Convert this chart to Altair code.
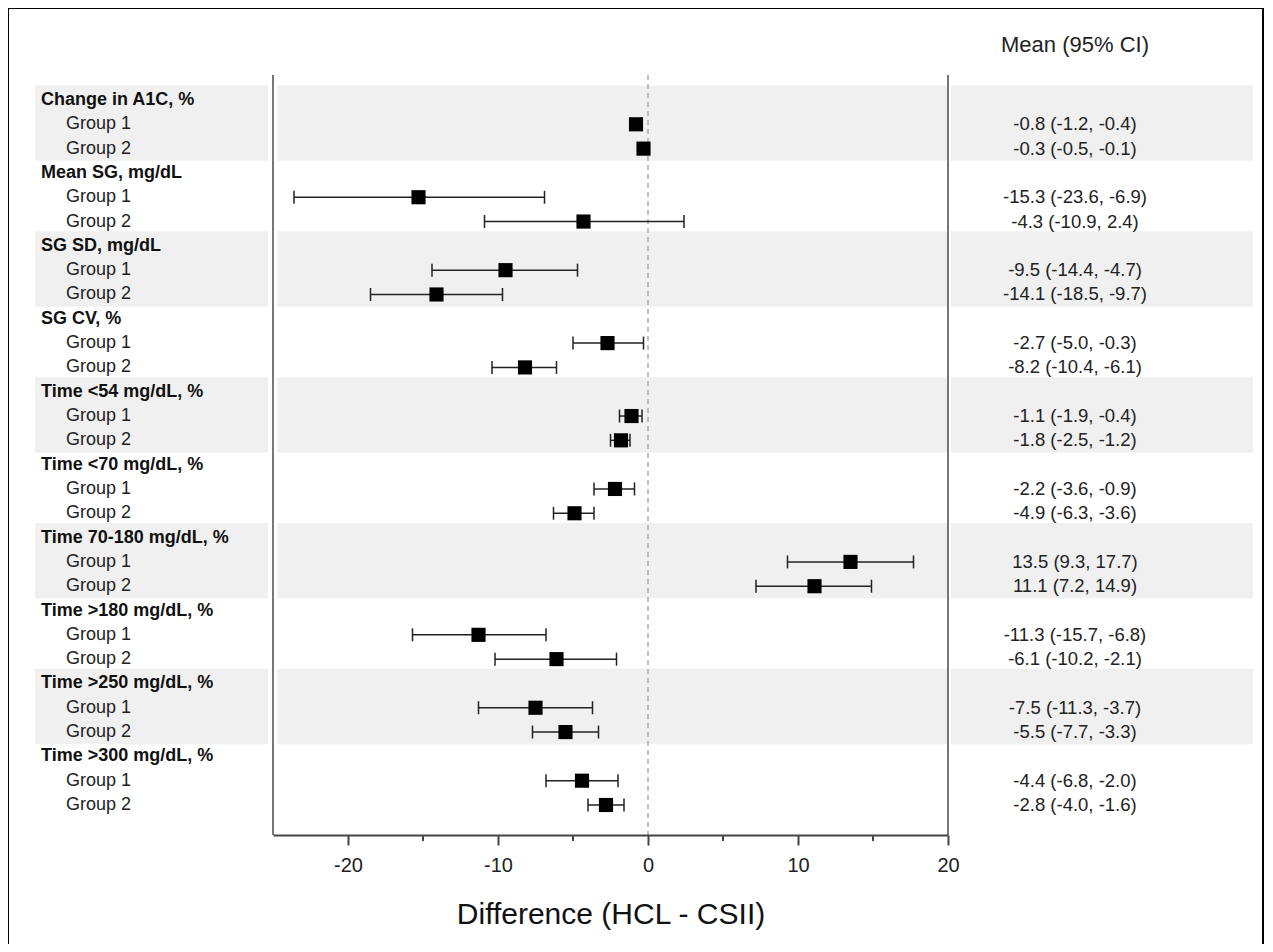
import altair as alt
import pandas as pd

measures = ["Change in A1C, %", "Mean SG, mg/dL", "SG SD, mg/dL", "SG CV, %",
            "Time <54 mg/dL, %", "Time <70 mg/dL, %", "Time 70-180 mg/dL, %",
            "Time >180 mg/dL, %", "Time >250 mg/dL, %", "Time >300 mg/dL, %"]
groups = ["Group 1", "Group 2"]
g1_mean = [-0.8, -15.3, -9.5, -2.7, -1.1, -2.2, 13.5, -11.3, -7.5, -4.4]
g1_lo = [-1.2, -23.6, -14.4, -5.0, -1.9, -3.6, 9.3, -15.7, -11.3, -6.8]
g1_hi = [-0.4, -6.9, -4.7, -0.3, -0.4, -0.9, 17.7, -6.8, -3.7, -2.0]
g2_mean = [-0.3, -4.3, -14.1, -8.2, -1.8, -4.9, 11.1, -6.1, -5.5, -2.8]
g2_lo = [-0.5, -10.9, -18.5, -10.4, -2.5, -6.3, 7.2, -10.2, -7.7, -4.0]
g2_hi = [-0.1, 2.4, -9.7, -6.1, -1.2, -3.6, 14.9, -2.1, -3.3, -1.6]
x_ticks = [-20, -10, 0, 10, 20]
minor_ticks = [-15, -5, 5, 15]
x_domain = [-25, 20]
col_header = "Mean (95% CI)"
x_title = "Difference (HCL - CSII)"

FONT = "Liberation Sans"

# ---- tables built from the arrays ----
head_rows, grp_rows, band_rows = [], [], []
for i, m in enumerate(measures):
    r = 3 * i
    head_rows.append({"row": r, "label": m})
    for j, (mean, lo, hi) in enumerate([(g1_mean[i], g1_lo[i], g1_hi[i]),
                                         (g2_mean[i], g2_lo[i], g2_hi[i])]):
        grp_rows.append({"row": r + 1 + j, "label": groups[j], "mean": mean,
                         "lo": lo, "hi": hi,
                         "txt": f"{mean:.1f} ({lo:.1f}, {hi:.1f})"})
    if i % 2 == 0:
        band_rows.append({"y": r - 0.6, "y2": r + 2.5})

head_df = pd.DataFrame(head_rows)
grp_df = pd.DataFrame(grp_rows)
band_df = pd.DataFrame(band_rows)
one = pd.DataFrame({"k": [0]})

yscale = alt.Scale(domain=[-1.028, 30.234], reverse=True, nice=False, zero=False)
xscale = alt.Scale(domain=x_domain, nice=False, zero=False)
xaxis = alt.Axis(values=x_ticks, labelExpr="datum.value + ''", tickSize=10,
                 tickWidth=2, tickColor="#444", domainColor="#444", domainWidth=2,
                 labelFontSize=20, labelFont=FONT, labelColor="#222", labelPadding=10,
                 labelFlush=False,
                 title=x_title, titleFontSize=30, titleFontWeight="normal",
                 titleFont=FONT, titleColor="#111", titlePadding=24, grid=False,
                 zindex=1)

frame = alt.Chart(one).mark_rect(fillOpacity=0, stroke="black", strokeWidth=2).encode(
    x=alt.value(-265), x2=alt.value(990), y=alt.value(-67), y2=alt.value(900))

bands = []
for xa, xb in [(-238, -5), (4, 674), (678, 980)]:
    bands.append(alt.Chart(band_df).mark_rect(color="#f0f0f0").encode(
        x=alt.value(xa), x2=alt.value(xb),
        y=alt.Y("y:Q", scale=yscale, axis=None), y2="y2:Q"))

vline_l = alt.Chart(one).mark_rule(color="#777", strokeWidth=2).encode(
    x=alt.value(0), y=alt.value(0), y2=alt.value(760))
vline_r = alt.Chart(one).mark_rule(color="#777", strokeWidth=2).encode(
    x=alt.value(675), y=alt.value(0), y2=alt.value(760))

zero = alt.Chart(pd.DataFrame({"z": [0]})).mark_rule(
    color="#aaa", strokeWidth=1.5, strokeDash=[5, 4]).encode(
    x=alt.X("z:Q", scale=xscale, axis=xaxis))

minor = alt.Chart(pd.DataFrame({"t": minor_ticks})).mark_rule(
    color="#444", strokeWidth=2).encode(
    x=alt.X("t:Q", scale=xscale, axis=xaxis), y=alt.value(760), y2=alt.value(766))

ci = alt.Chart(grp_df).mark_rule(color="#222", strokeWidth=1.5).encode(
    x=alt.X("lo:Q", scale=xscale, axis=xaxis), x2="hi:Q",
    y=alt.Y("row:Q", scale=yscale, axis=None))

caps = alt.Chart(grp_df).transform_fold(["lo", "hi"], as_=["end", "v"]).mark_tick(
    orient="vertical", size=13, thickness=1.5, color="#222", opacity=1).encode(
    x=alt.X("v:Q", scale=xscale, axis=xaxis),
    y=alt.Y("row:Q", scale=yscale, axis=None))

pts = alt.Chart(grp_df).mark_square(size=200, color="black", opacity=1, filled=True).encode(
    x=alt.X("mean:Q", scale=xscale, axis=xaxis),
    y=alt.Y("row:Q", scale=yscale, axis=None))

head_txt = alt.Chart(head_df).mark_text(
    align="left", baseline="middle", font=FONT, fontSize=18, fontWeight="bold",
    color="#111").encode(
    x=alt.value(-232), y=alt.Y("row:Q", scale=yscale, axis=None), text="label:N")

grp_txt = alt.Chart(grp_df).mark_text(
    align="left", baseline="middle", font=FONT, fontSize=18, color="#222").encode(
    x=alt.value(-207), y=alt.Y("row:Q", scale=yscale, axis=None), text="label:N")

val_txt = alt.Chart(grp_df).mark_text(
    align="center", baseline="middle", font=FONT, fontSize=18.5, color="#222").encode(
    x=alt.value(802), y=alt.Y("row:Q", scale=yscale, axis=None), text="txt:N")

col_txt = alt.Chart(pd.DataFrame({"t": [col_header]})).mark_text(
    align="center", baseline="middle", font=FONT, fontSize=22, color="#222").encode(
    x=alt.value(802), y=alt.value(-30), text="t:N")

chart = alt.layer(
    frame, *bands, vline_l, vline_r, zero, minor, ci, caps, pts,
    head_txt, grp_txt, val_txt, col_txt
).properties(
    width=675, height=760,
    background="white",
    autosize=alt.AutoSizeParams(type="none"),
    padding={"left": 265, "top": 67, "right": 317, "bottom": 109},
).configure_view(strokeWidth=0, stroke="transparent")

chart.save("out.html", embed_options={"renderer": "svg", "actions": False})
